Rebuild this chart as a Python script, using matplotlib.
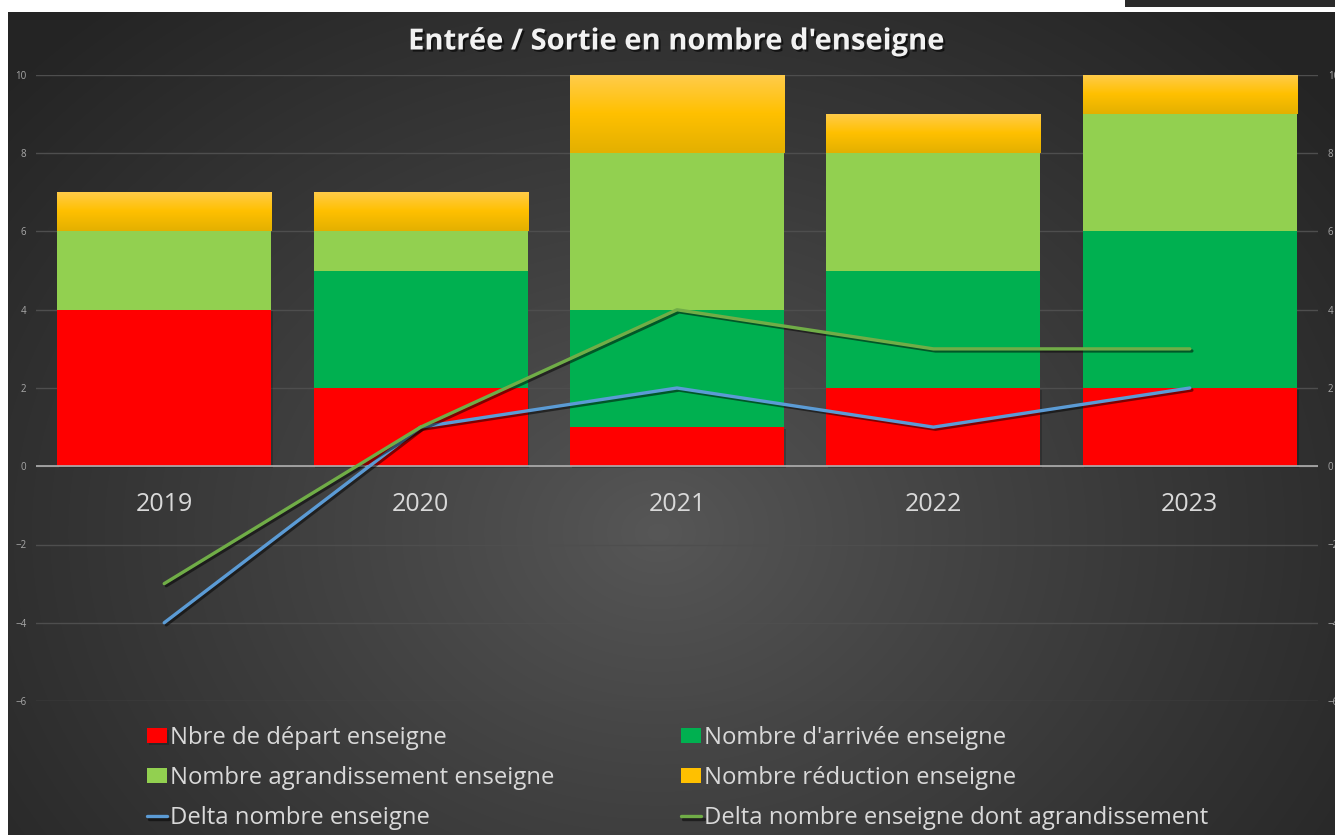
import numpy as np
import matplotlib
matplotlib.use("Agg")
import matplotlib.pyplot as plt
import matplotlib.patheffects as pe
from matplotlib.patches import Rectangle

# ---------------- data ----------------
years = ["2019", "2020", "2021", "2022", "2023"]
depart = [4, 2, 1, 2, 2]
arrivee = [0, 3, 3, 3, 4]
agrandissement = [2, 1, 4, 3, 3]
reduction = [1, 1, 2, 1, 1]
delta = [-4, 1, 2, 1, 2]
delta_agr = [-3, 1, 4, 3, 3]

y_ticks = [-6, -4, -2, 0, 2, 4, 6, 8, 10]

title = "Entrée / Sortie en nombre d'enseigne"
lab_depart = "Nbre de départ enseigne"
lab_arrivee = "Nombre d'arrivée enseigne"
lab_agr = "Nombre agrandissement enseigne"
lab_red = "Nombre réduction enseigne"
lab_delta = "Delta nombre enseigne"
lab_delta_agr = "Delta nombre enseigne dont agrandissement"

FONT = ["Open Sans", "DejaVu Sans"]
plt.rcParams["font.family"] = FONT

W, H = 1335, 835
fig = plt.figure(figsize=(W / 100, H / 100), dpi=100, facecolor="white")

# ---------------- background (radial gradient) ----------------
bg = fig.add_axes([8 / W, 0, (W - 8) / W, (H - 12) / H], zorder=0)
bg.set_axis_off()
gx, gy = np.meshgrid(np.arange(W - 8), np.arange(H - 12))
cx, cy = 650, 520
r = np.sqrt((gx - cx) ** 2 + ((gy - cy) * 1.25) ** 2)
t = np.clip(r / 850, 0, 1)
c_center = np.array([0x57, 0x57, 0x57]) / 255
c_edge = np.array([0x25, 0x25, 0x25]) / 255
img = c_center[None, None, :] + (c_edge - c_center)[None, None, :] * t[..., None] ** 0.9
bg.imshow(img, aspect="auto", extent=[0, 1, 0, 1], origin="upper")
bg.set_xlim(0, 1)
bg.set_ylim(0, 1)

# small dark bar at top right of screenshot
fig.patches.append(Rectangle((1125 / W, (H - 7) / H), (W - 1125) / W, 7 / H,
                             transform=fig.transFigure, facecolor="#2b2b2b",
                             edgecolor="none", zorder=1))

# ---------------- main axes ----------------
ax = fig.add_axes([36 / W, (H - 701) / H, 1282 / W, 626 / H], zorder=2)
ax.patch.set_alpha(0)
x = np.arange(len(years))
width = 0.835

ax.set_xlim(-0.5, len(years) - 0.5)
ax.set_ylim(-6, 10)
ax.set_yticks(y_ticks)
ax.yaxis.grid(True, color="#4e4e4e", linewidth=1.0, zorder=0)
ax.set_axisbelow(True)
for s in ax.spines.values():
    s.set_visible(False)
ax.tick_params(axis="y", length=0, labelsize=7, labelcolor="#a8a8a8",
               labelright=True, pad=7)
ax.set_xticks(x)
ax.tick_params(axis="x", length=0, labelbottom=False)

shadow_bar = [pe.SimplePatchShadow(offset=(1.2, -1.2), alpha=0.2, shadow_rgbFace="black"),
              pe.Normal()]

b1 = ax.bar(x, depart, width, color="#FF0000", zorder=2, path_effects=shadow_bar, label=lab_depart)
bot = np.array(depart, dtype=float)
b2 = ax.bar(x, arrivee, width, bottom=bot, color="#00B050", zorder=2, label=lab_arrivee)
bot += np.array(arrivee)
b3 = ax.bar(x, agrandissement, width, bottom=bot, color="#92D050", zorder=2, label=lab_agr)
bot += np.array(agrandissement)
b4 = ax.bar(x, reduction, width, bottom=bot, color="#FFC000", zorder=2, label=lab_red)

# gradient on yellow segments
grad = np.linspace(0, 1, 100)[:, None]
top_c = np.array([1.0, 0.80, 0.30])
mid_c = np.array([1.0, 0.753, 0.0])
bot_c = np.array([0.89, 0.69, 0.0])
gimg = np.where(grad[..., None] < 0.5,
                top_c + (mid_c - top_c) * (grad[..., None] / 0.5),
                mid_c + (bot_c - mid_c) * ((grad[..., None] - 0.5) / 0.5))
gimg = np.repeat(gimg, 2, axis=1)
for rect in b4:
    x0, y0 = rect.get_x(), rect.get_y()
    w, h = rect.get_width(), rect.get_height()
    im = ax.imshow(gimg, extent=[x0, x0 + w, y0, y0 + h], aspect="auto",
                   origin="upper", zorder=2.1)
    im.set_clip_path(rect)
ax.set_xlim(-0.5, len(years) - 0.5)
ax.set_ylim(-6, 10)

# zero line
ax.axhline(0, color="#b0b0b0", linewidth=1.2, zorder=2.5)

# lines
line_fx = [pe.SimpleLineShadow(offset=(1.5, -1.5), alpha=0.5, shadow_color="black"), pe.Normal()]
l1, = ax.plot(x, delta, color="#5B9BD5", linewidth=2.4, zorder=3, label=lab_delta,
              path_effects=line_fx, solid_capstyle="round")
l2, = ax.plot(x, delta_agr, color="#70AD47", linewidth=2.4, zorder=3, label=lab_delta_agr,
              path_effects=line_fx, solid_capstyle="round")

# category labels
for xi, lab in zip(x, years):
    ax.text(xi, -0.98, lab, ha="center", va="center", fontsize=18, color="#d9d9d9")

# title
fig.text(676 / W, 1 - 42 / H, title, ha="center", va="center", fontsize=21,
         fontweight="bold", color="#f2f2f2",
         path_effects=[pe.withSimplePatchShadow(offset=(1.5, -1.5), alpha=0.6, shadow_rgbFace="black")],
         zorder=5)

# legend
handles = [b1, b3, l1, b2, b4, l2]
labels = [lab_depart, lab_agr, lab_delta, lab_arrivee, lab_red, lab_delta_agr]
leg = fig.legend(handles, labels, ncol=2, loc="upper left",
                 bbox_to_anchor=(147 / W, 1 - 726 / H), frameon=False,
                 fontsize=17.2, labelcolor="#d9d9d9", handlelength=0.85,
                 handleheight=0.6, handletextpad=0.12, columnspacing=5.3,
                 labelspacing=0.68, borderpad=0, borderaxespad=0)
leg.set_zorder(5)

fig.savefig("out.png", dpi=100, facecolor="white")
